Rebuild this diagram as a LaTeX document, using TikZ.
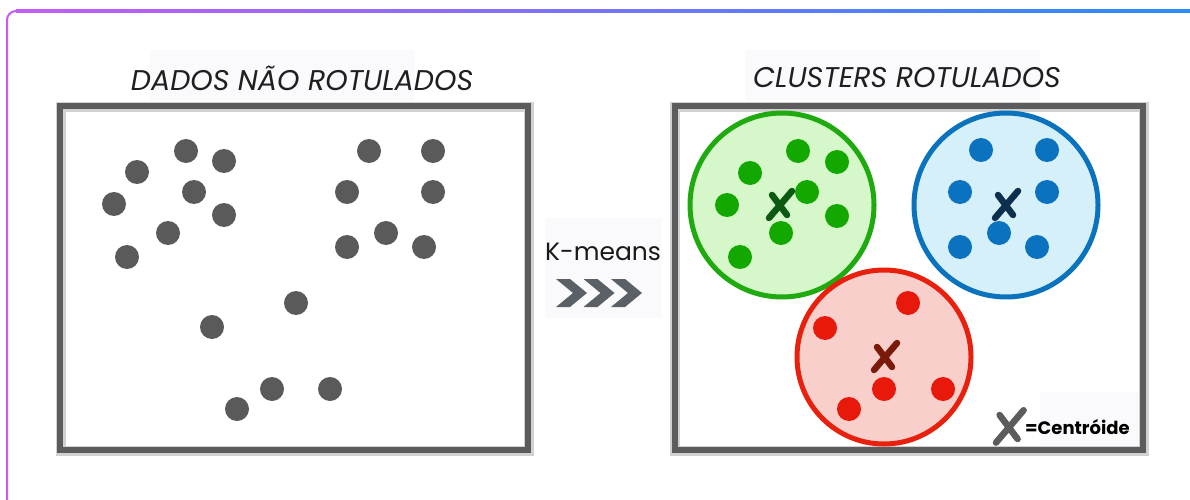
\documentclass[tikz,border=0pt]{standalone}
\usepackage{fontspec}
\setmainfont{Poppins}
\begin{document}
\begin{tikzpicture}[x=1pt,y=-1pt,
  frame/.style={draw=framegray, line width=6pt},
  frameshadow/.style={draw=black!18, line width=10pt},
  title/.style={font=\fontsize{28.5}{32}\selectfont\itshape, text=black!88},
  xm/.pic={\draw[line width=6.5pt, line cap=round] (-10,13) -- (13,-14) (-7,-10) -- (8,10);}
]
\definecolor{framegray}{HTML}{5C5C5C}
\definecolor{dotgray}{HTML}{5A5A5A}
\definecolor{purpA}{HTML}{C35CF5}
\definecolor{blueA}{HTML}{2A8CF5}
\definecolor{gstroke}{HTML}{1FAA10}
\definecolor{gfill}{HTML}{D5F7C9}
\definecolor{gdotc}{HTML}{12A800}
\definecolor{gx}{HTML}{0C5A12}
\definecolor{bstroke}{HTML}{0B72BD}
\definecolor{bfill}{HTML}{D5F0F8}
\definecolor{bdotc}{HTML}{0B72C0}
\definecolor{bx}{HTML}{0D2F4F}
\definecolor{rstroke}{HTML}{E8210F}
\definecolor{rfill}{HTML}{F9CFCB}
\definecolor{rdotc}{HTML}{E8180A}
\definecolor{rx}{HTML}{7A1A0A}
\definecolor{chev}{HTML}{5A6066}
\definecolor{faint}{HTML}{FAFAFD}
\useasboundingbox (0,0) rectangle (1190,500);
\fill[white] (0,0) rectangle (1190,500);
% outer gradient frame
\shade[left color=purpA, right color=blueA] (16,10) rectangle (1190,12.2);
\draw[purpA, line width=2pt, rounded corners=9] (7,500) |- (18,11);
% faint backgrounds
\fill[faint] (150,50) rectangle (415,100);
\fill[faint] (745,50) rectangle (1040,100);
\fill[faint] (545,218) rectangle (662,318);
\fill[faint] (1040,392) rectangle (1140,446);
% titles
\node[title] (t1) at (302,78) {DADOS NÃO ROTULADOS};
\node[title] (t2) at (907,78) {CLUSTERS ROTULADOS};
% frames
\draw[frameshadow] (61,107) rectangle (529,451);
\draw[frameshadow] (675,107) rectangle (1144,451);
\draw[frame] (60,106) rectangle (528,450);
\draw[frame] (675,106) rectangle (1143,450);
% left dots
\foreach \p in {(137,172),(186,151),(224,161),(194,192),(114,204),(224,215),(168,233),(127,257),
  (369,151),(433,151),(347,192),(433,192),(386,233),(347,247),(424,247),
  (296,303),(212,327),(272,389),(330,389),(237,409)}
  \fill[dotgray] \p circle[radius=12];
% K-means
\node[font=\fontsize{25}{28}\selectfont, text=black!90] (km) at (603,252) {K-means};
\foreach \dx in {0,27.5,55}
  \fill[chev] ({556+\dx},279) -- ({570+\dx},279) -- ({587+\dx},293) -- ({570+\dx},307) -- ({556+\dx},307) -- ({573+\dx},293) -- cycle;
% clusters
\draw[gstroke, fill=gfill, line width=5pt] (782,205) circle[radius=92];
\draw[bstroke, fill=bfill, line width=5pt] (1006,205) circle[radius=92];
\draw[rstroke, fill=rfill, line width=5pt] (884,357) circle[radius=87];
\foreach \p in {(798,151),(837,162),(750,173),(807,192),(727,205),(837,216),(781,233),(740,257)}
  \fill[gdotc] \p circle[radius=12];
\foreach \p in {(981,150),(1047,150),(960,192),(1047,192),(999,233),(960,247),(1037,247)}
  \fill[bdotc] \p circle[radius=12];
\foreach \p in {(908,303),(825,328),(884,389),(943,389),(849,409)}
  \fill[rdotc] \p circle[radius=12];
\pic[color=gx] at (779,205) {xm};
\pic[color=bx] at (1005,205) {xm};
\pic[color=rx] at (884,357) {xm};
% legend
\pic[color=framegray, scale=1.2] at (1008,427) {xm};
\node[font=\fontsize{18}{20}\selectfont\bfseries, anchor=west, inner sep=0pt] (leg) at (1025,427) {=Centróide};
\end{tikzpicture}
\end{document}
